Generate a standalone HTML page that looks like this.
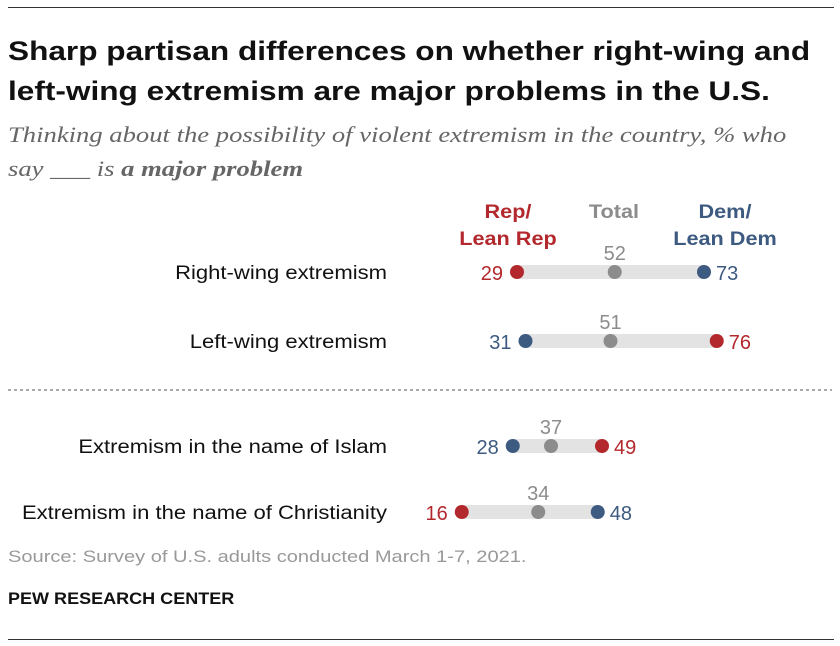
<!DOCTYPE html>
<html><head><meta charset="utf-8"><style>
body{margin:0;background:#fff;width:840px;height:646px;overflow:hidden;font-family:"Liberation Sans",sans-serif}
.t{position:absolute;white-space:nowrap;transform-origin:0 0}
</style></head><body>
<div style="position:absolute;left:8px;top:7px;width:826px;height:1px;background:#333"></div>
<div class="t" style="left:8px;top:31px;font-size:27px;font-weight:bold;line-height:40px;color:#111;transform:scaleX(1.17)">Sharp partisan differences on whether right-wing and<br>left-wing extremism are major problems in the U.S.</div>
<div class="t" style="left:8px;top:118px;font-family:'Liberation Serif',serif;font-style:italic;font-size:22px;line-height:34px;color:#666;transform:scaleX(1.21)">Thinking about the possibility of violent extremism in the country, % who<br>say ___ is <b>a major problem</b></div>
<svg id="c" width="840" height="646" style="position:absolute;left:0;top:0" font-family="Liberation Sans, sans-serif"></svg>
<div class="t" style="left:8px;top:547px;font-size:17px;color:#999;transform:scaleX(1.18)">Source: Survey of U.S. adults conducted March 1-7, 2021.</div>
<div class="t" style="left:8px;top:589px;font-size:17px;font-weight:bold;color:#111;transform:scaleX(1.06)">PEW RESEARCH CENTER</div>
<div style="position:absolute;left:8px;top:639px;width:826px;height:1px;background:#333"></div>
<script>
const categories=["Right-wing extremism","Left-wing extremism","Extremism in the name of Islam","Extremism in the name of Christianity"];
const rep=[29,76,49,16];
const total=[52,51,37,34];
const dem=[73,31,28,48];
const rowY=[272,341,446,512];
const RED="#b3282d",BLUE="#3d5a80",GRAY="#8c8c8c";
const x=v=>393.75+v*4.25;
const svg=document.getElementById('c');const NS="http://www.w3.org/2000/svg";
function mk(tag,attrs,txt){const e=document.createElementNS(NS,tag);for(const k in attrs)e.setAttribute(k,attrs[k]);if(txt!==undefined)e.textContent=txt;svg.appendChild(e);return e;}
function widen(e,f){const w=e.getComputedTextLength();e.setAttribute('textLength',w*f);e.setAttribute('lengthAdjust','spacingAndGlyphs');}
function hdr(lines,cx,col,name){lines.forEach((l,i)=>{const e=mk('text',{x:cx,y:218+i*27,'text-anchor':'middle','font-size':19,'font-weight':'bold',fill:col},l);
widen(e,1.14);

});}
hdr(["Rep/","Lean Rep"],508,RED,'legend-rep');
hdr(["Total"],614,GRAY,'legend-total');
hdr(["Dem/","Lean Dem"],725,BLUE,'legend-dem');
const dl=mk('line',{x1:8,x2:832,y1:390,y2:390,stroke:'#555','stroke-dasharray':'3,3','stroke-width':1});


categories.forEach((c,i)=>{
 const y=rowY[i];
 const lab=mk('text',{x:387,y:y+7,'text-anchor':'end','font-size':19,fill:'#111'},c);
 widen(lab,1.16);
 
 
 const lo=Math.min(rep[i],dem[i]),hi=Math.max(rep[i],dem[i]);
 const bar=mk('rect',{x:x(lo),y:y-7,width:x(hi)-x(lo),height:14,fill:'#e3e3e3'});
 
 
 const loCol=rep[i]<dem[i]?RED:BLUE,hiCol=rep[i]<dem[i]?BLUE:RED;
 const t1=mk('text',{x:x(lo)-14,y:y+8,'text-anchor':'end','font-size':20,fill:loCol},lo);
 
 
 const t2=mk('text',{x:x(hi)+12,y:y+8,'font-size':20,fill:hiCol},hi);
 
 
 const t3=mk('text',{x:x(total[i]),y:y-12,'text-anchor':'middle','font-size':20,fill:GRAY},total[i]);
 
 
 [[rep[i],RED,'rep-dot'],[total[i],GRAY,'total-dot'],[dem[i],BLUE,'dem-dot']].forEach(([v,col,n])=>{
  const d=mk('circle',{cx:x(v),cy:y,r:7,fill:col});
  
  
 });
});
</script>
</body></html>
